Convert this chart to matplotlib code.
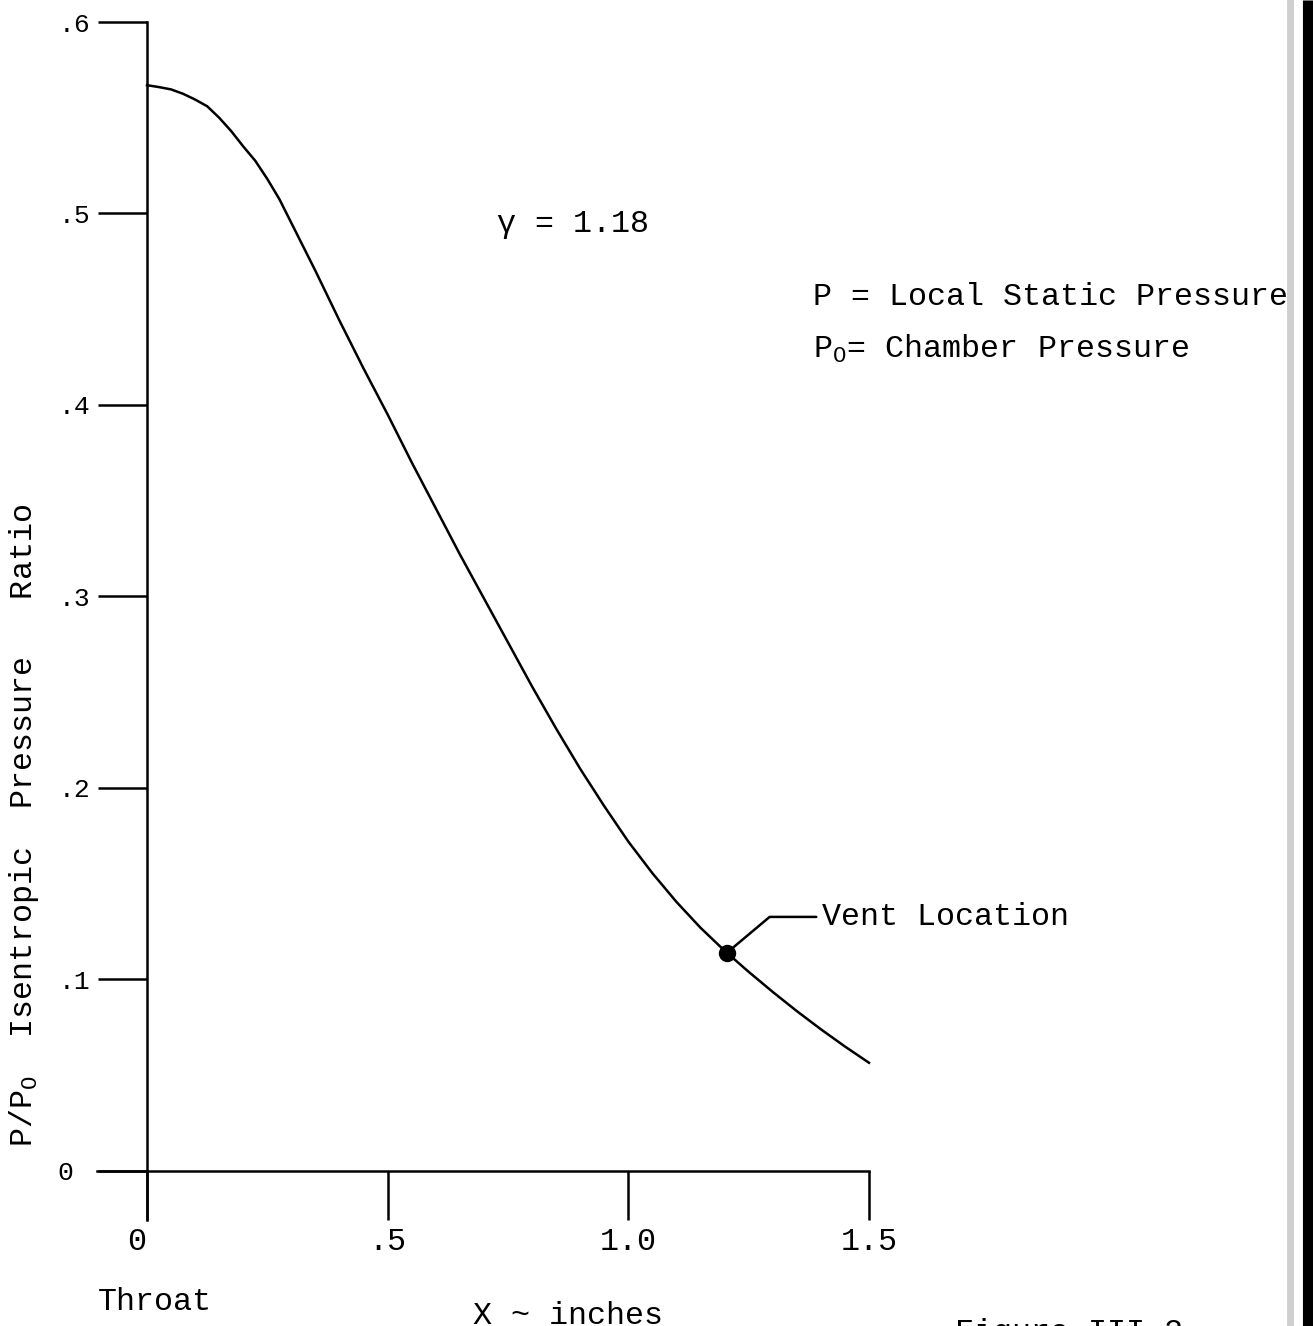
"""
Isentropic pressure ratio along the nozzle wall
P/Po vs distance from throat, with the vent location marked
"""

import matplotlib
matplotlib.use("Agg")
import matplotlib.pyplot as plt
from matplotlib.lines import Line2D

# curve values
x_inches = [0.000, 0.025, 0.050, 0.075, 0.100, 0.125, 0.150, 0.175, 0.200, 0.225,
            0.250, 0.275, 0.300, 0.350, 0.400, 0.450, 0.500, 0.550, 0.600, 0.650,
            0.700, 0.750, 0.800, 0.850, 0.900, 0.950, 1.000, 1.050, 1.100, 1.150,
            1.200, 1.250, 1.300, 1.350, 1.400, 1.450, 1.500]
p_ratio = [0.567, 0.566, 0.5648, 0.5625, 0.5595, 0.556, 0.550, 0.543, 0.535, 0.5275,
           0.518, 0.5075, 0.495, 0.470, 0.444, 0.419, 0.395, 0.370, 0.346, 0.322,
           0.299, 0.276, 0.253, 0.231, 0.210, 0.1905, 0.172, 0.1555, 0.1405, 0.127,
           0.115, 0.104, 0.0935, 0.0835, 0.074, 0.065, 0.0565]

vent_x = 1.205
vent_y = 0.114

x_ticks = [0.0, 0.5, 1.0, 1.5]
x_tick_labels = ["0 ", ".5", "1.0", "1.5"]
y_ticks = [0.0, 0.1, 0.2, 0.3, 0.4, 0.5, 0.6]
y_tick_labels = ["0 ", ".1", ".2", ".3", ".4", ".5", ".6"]

MONO = ["Liberation Mono", "DejaVu Sans Mono"]
plt.rcParams["font.family"] = MONO
plt.rcParams["mathtext.fontset"] = "custom"
plt.rcParams["mathtext.rm"] = "Liberation Mono"
plt.rcParams["mathtext.it"] = "Liberation Mono"
plt.rcParams["mathtext.bf"] = "Liberation Mono:bold"

FS = 22.9
LW = 1.8

fig = plt.figure(figsize=(13.13, 13.26), dpi=100)
ax = fig.add_axes([97 / 1313, 106 / 1326, 772 / 1313, 1198 / 1326])
ax.set_xlim(-0.1039, 1.5)
ax.set_ylim(-0.0256, 0.6)

# axes drawn through the origin, like the hand drawn original
for side in ["top", "right"]:
    ax.spines[side].set_visible(False)
ax.spines["left"].set_position(("data", 0))
ax.spines["bottom"].set_position(("data", 0))
for side in ["left", "bottom"]:
    ax.spines[side].set_linewidth(LW)

ax.set_xticks(x_ticks, x_tick_labels, fontsize=FS)
ax.set_yticks(y_ticks, y_tick_labels, fontsize=19)
ax.tick_params(axis="both", direction="out", length=35, width=LW, color="black")
ax.tick_params(axis="x", pad=5)
ax.tick_params(axis="y", pad=6)

# curve + vent point
ax.plot(x_inches, p_ratio, color="black", lw=LW, clip_on=False)
ax.plot(vent_x, vent_y, "o", color="black", ms=11.5, zorder=5, clip_on=False)

ax.annotate("Vent Location", xy=(vent_x, vent_y), xytext=(1.402, 0.1285),
            ha="left", va="baseline", fontsize=FS, annotation_clip=False,
            arrowprops=dict(arrowstyle="-", color="black", lw=LW,
                            connectionstyle="angle,angleA=180,angleB=40,rad=0",
                            shrinkA=2, shrinkB=0, relpos=(0, 0.5)))

# notes
ax.text(0.727, 0.4903, "\u03b3 = 1.18", ha="left", va="baseline", fontsize=FS)
ax.text(1.384, 0.4522, "P = Local Static Pressure", ha="left", va="baseline",
        fontsize=FS, clip_on=False)
ax.text(1.384, 0.4245, "P$_O$= Chamber Pressure", ha="left", va="baseline",
        fontsize=FS, clip_on=False)

ax.text(-0.102, -0.0726, "Throat", ha="left", va="baseline", fontsize=FS, clip_on=False)
ax.text(0.677, -0.0799, "X ~ inches", ha="left", va="baseline", fontsize=FS, clip_on=False)
ax.text(1.679, -0.0768, "Figure III-2", ha="left", va="top", fontsize=FS, clip_on=False)

fig.text(24 / 1313, 1 - 825 / 1326, "P/P$_O$  Isentropic  Pressure   Ratio",
         rotation=90, ha="center", va="center", fontsize=FS)

# page edge of the scan: light stipple line + thick black edge
fig.add_artist(Line2D([1290 / 1313, 1290 / 1313], [0, 1], transform=fig.transFigure,
                      color="#cfcfcf", lw=5, zorder=10))
fig.add_artist(Line2D([1307.5 / 1313, 1307.5 / 1313], [0, 1], transform=fig.transFigure,
                      color="black", lw=8, zorder=10, solid_capstyle="butt"))

fig.savefig("out.png", dpi=100)
print("saved: out.png")
